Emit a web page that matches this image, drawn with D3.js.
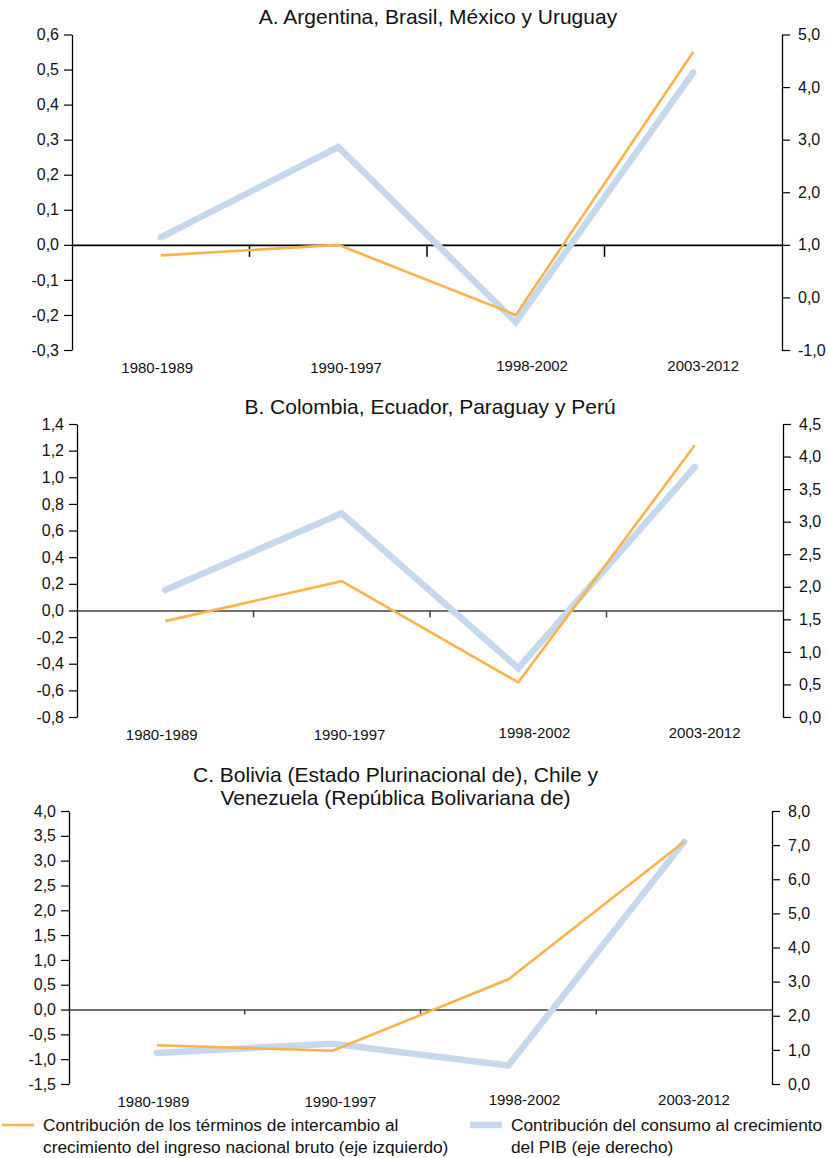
<!DOCTYPE html>
<html>
<head>
<meta charset="utf-8">
<script src="https://cdn.jsdelivr.net/npm/d3@7"></script>
<style>
  html, body { margin: 0; padding: 0; background: #fff; }
  svg { display: block; font-family: "Liberation Sans", Arial, sans-serif; }
</style>
</head>
<body>
<svg id="chart" width="828" height="1158"></svg>
<script>
// ---- Data ----
const categories = ["1980-1989", "1990-1997", "1998-2002", "2003-2012"];

const titlesA = ["A. Argentina, Brasil, México y Uruguay"];
const termsA = [-0.03, 0.00, -0.20, 0.55];
const consumoA = [1.14, 2.86, -0.47, 4.28];
const leftTicksA = [-0.3, -0.2, -0.1, 0.0, 0.1, 0.2, 0.3, 0.4, 0.5, 0.6];
const rightTicksA = [-1, 0, 1, 2, 3, 4, 5];

const titlesB = ["B. Colombia, Ecuador, Paraguay y Perú"];
const termsB = [-0.08, 0.22, -0.54, 1.24];
const consumoB = [1.95, 3.13, 0.75, 3.84];
const leftTicksB = [-0.8, -0.6, -0.4, -0.2, 0.0, 0.2, 0.4, 0.6, 0.8, 1.0, 1.2, 1.4];
const rightTicksB = [0, 0.5, 1.0, 1.5, 2.0, 2.5, 3.0, 3.5, 4.0, 4.5];

const titlesC = ["C. Bolivia (Estado Plurinacional de), Chile y", "Venezuela (República Bolivariana de)"];
const termsC = [-0.72, -0.83, 0.61, 3.38];
const consumoC = [0.91, 1.18, 0.54, 7.10];
const leftTicksC = [-1.5, -1.0, -0.5, 0.0, 0.5, 1.0, 1.5, 2.0, 2.5, 3.0, 3.5, 4.0];
const rightTicksC = [0, 1, 2, 3, 4, 5, 6, 7, 8];

const legendLabels = [
  ["Contribución de los términos de intercambio al", "crecimiento del ingreso nacional bruto (eje izquierdo)"],
  ["Contribución del consumo al crecimiento", "del PIB (eje derecho)"]
];

// ---- Layout / styles ----
const ORANGE = "#fbb349";
const BLUE = "#c5d8ee";
const FONT = "'Liberation Sans', Arial, sans-serif";
const labelFrac = [0.12, 0.386, 0.648, 0.889]; // category label placement within plot width
const locale = d3.formatLocale({decimal: ",", thousands: ".", grouping: [3], currency: ["", ""], minus: "-"});
const fmt = locale.format(".1f");

const panels = [
  {titles: titlesA, terms: termsA, consumo: consumoA, lt: leftTicksA, rt: rightTicksA,
   left: 72, right: 782, top: 34.5, bottom: 350, titleX: 438, titleY: 23.5, tick: 12},
  {titles: titlesB, terms: termsB, consumo: consumoB, lt: leftTicksB, rt: rightTicksB,
   left: 77, right: 783, top: 424, bottom: 717, titleX: 430, titleY: 413.5, tick: 7, zeroColor: "#404040"},
  {titles: titlesC, terms: termsC, consumo: consumoC, lt: leftTicksC, rt: rightTicksC,
   left: 69, right: 772, top: 811, bottom: 1084, titleX: 395.5, titleY: 781.7, tick: 5, zeroColor: "#404040"}
];

const svg = d3.select("#chart");

panels.forEach(p => {
  const g = svg.append("g");
  const x = d3.scaleBand().domain(categories).range([p.left, p.right]);
  const w = p.right - p.left;
  const yL = d3.scaleLinear().domain(d3.extent(p.lt)).range([p.bottom, p.top]);
  const yR = d3.scaleLinear().domain(d3.extent(p.rt)).range([p.bottom, p.top]);

  // title
  p.titles.forEach((t, i) => {
    g.append("text").attr("x", p.titleX).attr("y", p.titleY + i * 23.4)
      .attr("text-anchor", "middle").attr("font-size", 21).attr("fill", "#111").text(t);
  });

  // left axis
  const la = g.append("g").attr("transform", `translate(${p.left},0)`)
    .call(d3.axisLeft(yL).tickValues(p.lt).tickFormat(fmt).tickSize(8).tickPadding(5).tickSizeOuter(0));
  // right axis
  const ra = g.append("g").attr("transform", `translate(${p.right},0)`)
    .call(d3.axisRight(yR).tickValues(p.rt).tickFormat(fmt).tickSize(8).tickPadding(8).tickSizeOuter(0));
  [la, ra].forEach(a => {
    a.select(".domain").attr("stroke", "#000").attr("stroke-width", 1.3);
    a.selectAll(".tick line").attr("stroke", "#000").attr("stroke-width", 1.2);
    a.selectAll(".tick text").attr("font-size", 16).attr("fill", "#111").attr("font-family", FONT);
  });

  // category axis on the zero line
  const y0 = yL(0);
  const xa = g.append("g").attr("transform", `translate(0,${y0})`)
    .call(d3.axisBottom(x).tickSize(0).tickFormat(""));
  xa.select(".domain").attr("stroke", p.zeroColor || "#000").attr("stroke-width", 1.6);
  g.selectAll(".bound").data(categories.slice(1)).enter().append("line")
    .attr("x1", d => x(d)).attr("x2", d => x(d))
    .attr("y1", y0).attr("y2", y0 + p.tick)
    .attr("stroke", p.zeroColor || "#000").attr("stroke-width", 1.5);

  // category labels below plot
  g.selectAll(".cat").data(categories).enter().append("text")
    .attr("x", (d, i) => p.left + labelFrac[i] * w)
    .attr("y", (d, i) => p.bottom + (i < 2 ? 23.3 : 21.3))
    .attr("text-anchor", "middle").attr("font-size", 15).attr("fill", "#111").text(d => d);

  const cx = d => x(d) + x.bandwidth() / 2;

  // blue line (right axis)
  g.append("path")
    .datum(categories.map((c, i) => [c, p.consumo[i]]))
    .attr("fill", "none").attr("stroke", BLUE).attr("stroke-width", 6.5)
    .attr("stroke-linejoin", "miter").attr("stroke-linecap", "round")
    .attr("d", d3.line().x(d => cx(d[0])).y(d => yR(d[1])));

  // orange line (left axis)
  g.append("path")
    .datum(categories.map((c, i) => [c, p.terms[i]]))
    .attr("fill", "none").attr("stroke", ORANGE).attr("stroke-width", 2.6)
    .attr("d", d3.line().x(d => cx(d[0])).y(d => yL(d[1])));
});

// legend
const lg = svg.append("g");
const legendItems = [
  {x: 2, color: ORANGE, width: 2.6, lines: legendLabels[0]},
  {x: 470, color: BLUE, width: 6.5, lines: legendLabels[1]}
];
legendItems.forEach(it => {
  lg.append("line").attr("x1", it.x).attr("x2", it.x + 32).attr("y1", 1125).attr("y2", 1125)
    .attr("stroke", it.color).attr("stroke-width", it.width);
  it.lines.forEach((t, i) => {
    lg.append("text").attr("x", it.x + 41).attr("y", 1131 + i * 21.7)
      .attr("font-size", 17.3).attr("fill", "#111").text(t);
  });
});
</script>
</body>
</html>
